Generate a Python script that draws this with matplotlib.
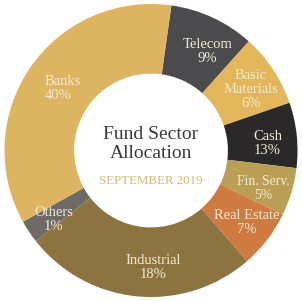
import matplotlib
matplotlib.use("Agg")
import matplotlib.pyplot as plt
import numpy as np

sectors = ["Telecom", "Basic\nMaterials", "Cash", "Fin. Serv.", "Real Estate", "Industrial", "Others", "Banks"]
pct_labels = ["9%", "6%", "13%", "5%", "7%", "18%", "1%", "40%"]
# wedge sizes as drawn in the picture (share of the ring)
sizes = [9.4, 8.1, 7.2, 5.3, 6.4, 25.8, 2.5, 35.3]
colors = ["#4B4A4D", "#E3B659", "#2A2829", "#B99E54", "#CF7A3F", "#8D733F", "#6E6A66", "#DDB460"]

# label placement tweaks (pixels) and alignment
nudges_px = [(7, -7), (2, -4), (0, -5), (0, -5), (3, -1), (13, 0), (0, -4), (9, -4)]
aligns = ["center", "center", "center", "center", "center", "center", "center", "left"]
sizes_pt = [10.5, 10.5, 10.5, 9.8, 10.5, 10.5, 10.5, 10.5]

fig = plt.figure(figsize=(3.02, 3.01), dpi=100)
ax = fig.add_axes([0, 0, 1, 1])

wedges, _ = ax.pie(sizes, colors=colors, startangle=82, counterclock=False,
                   radius=1.0, wedgeprops=dict(width=0.475, linewidth=0))
ax.set_aspect("equal")
px = 147.0
lim = 151 / px
ax.set_xlim(-lim, lim)
ax.set_ylim(-lim, lim)
ax.axis("off")

serif = ["Liberation Serif", "DejaVu Serif"]
label_r = 0.80
for w, name, p, (dx, dy), al, fs in zip(wedges, sectors, pct_labels, nudges_px, aligns, sizes_pt):
    ang = np.deg2rad((w.theta1 + w.theta2) / 2)
    x, y = label_r * np.cos(ang) + dx / px, label_r * np.sin(ang) + dy / px
    if al == "left":
        x -= 19 / px
    ax.text(x, y, f"{name}\n{p}", ha=al, va="center", fontsize=fs,
            color="#F4EAD3", family=serif, linespacing=1.1, multialignment=al)

ax.text(0, 0.045, "Fund Sector\nAllocation", ha="center", va="center", fontsize=14,
        color="#3A3A3C", family=serif, linespacing=1.1)
ax.text(0, -0.21, "SEPTEMBER 2019", ha="center", va="center", fontsize=9.3,
        color="#D8B873", family=serif)

fig.savefig("out.png", dpi=100, facecolor="white")
